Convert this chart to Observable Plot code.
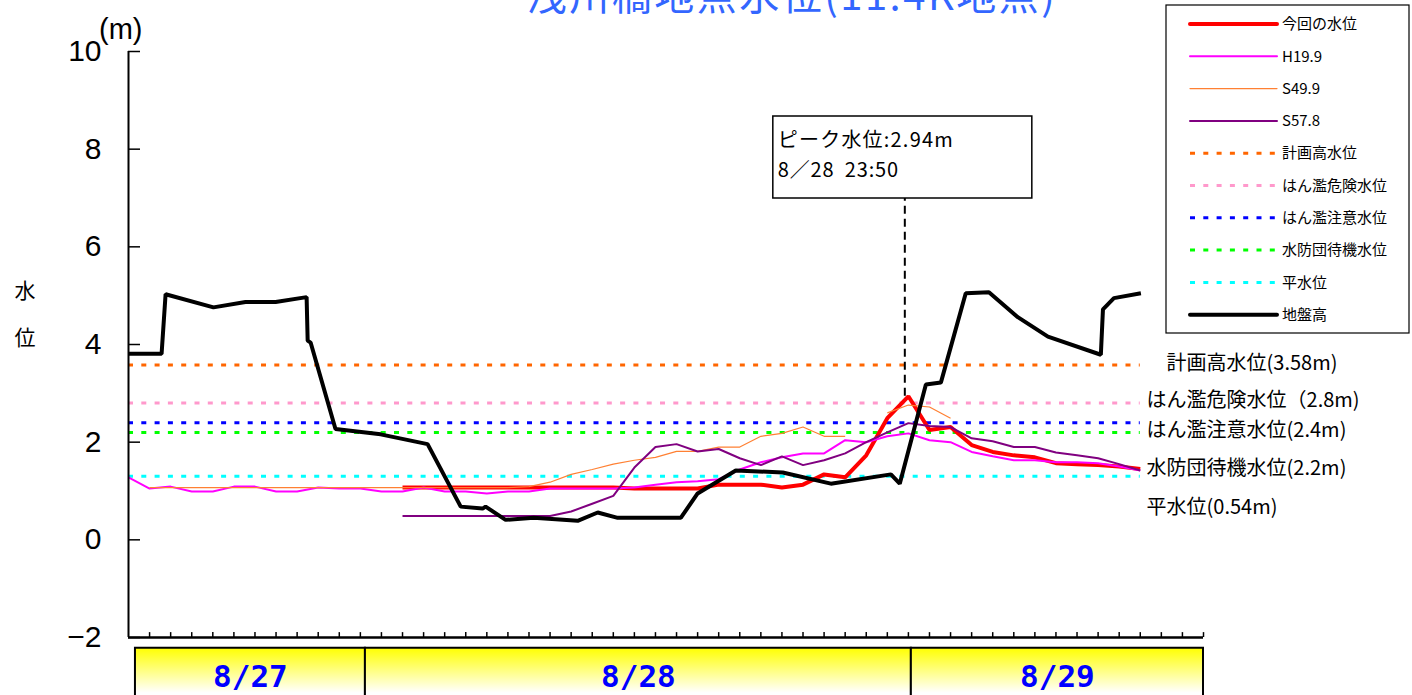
<!DOCTYPE html>
<html><head><meta charset="utf-8">
<script src="https://cdn.jsdelivr.net/npm/d3@7"></script>
<script src="https://cdn.jsdelivr.net/npm/@observablehq/plot@0.6"></script>
<style>
body{margin:0;background:#fff;overflow:hidden}
#chart{position:relative;width:1412px;height:695px}
</style>
</head><body><div id="chart"></div>
<script>
// ---- data ----
const titleText = "浅川橋地点水位(11.4K地点)";
const xTicks = d3.range(0, 52);            // hourly tick index (8/27 11:00 = 0)
const yTicks = [-2, 0, 2, 4, 6, 8, 10];

const currentStart = 13;   // 今回の水位
const currentLevel = [1.07,1.07,1.07,1.07,1.07,1.07,1.07,1.07,1.07,1.07,1.07,
  1.05,1.05,1.05,1.05,1.13,1.13,1.13,1.07,1.13,1.34,1.28,1.73,2.49,2.94,
  2.25,2.31,1.94,1.80,1.73,1.69,1.57,1.55,1.53,1.50,1.45];

const h19Start = 0;        // H19.9
const h19Level = [1.28,1.05,1.09,0.99,0.99,1.09,1.09,0.99,0.99,1.07,1.05,1.05,0.99,0.99,
  1.07,0.99,0.99,0.95,0.99,0.99,1.05,1.05,1.05,1.05,1.07,1.13,1.18,1.20,1.24,1.44,1.59,
  1.69,1.77,1.77,2.04,2.00,2.12,2.18,2.04,2.00,1.80,1.71,1.63,1.63,1.59,1.59,1.57,1.50,1.42];

const s49Start = 1;        // S49.9
const s49Level = [1.07,1.07,1.07,1.07,1.07,1.07,1.07,1.07,1.07,1.07,1.07,1.07,1.07,1.07,
  1.07,1.07,1.07,1.07,1.09,1.18,1.34,1.44,1.55,1.63,1.69,1.81,1.81,1.90,1.90,2.12,2.18,
  2.31,2.12,2.12,null,2.60,2.76,2.72,2.49];

const s57Start = 13;       // S57.8
const s57Level = [0.49,0.49,0.49,0.49,0.49,0.49,0.49,0.49,0.58,0.74,0.90,1.48,1.90,1.96,
  1.81,1.86,1.67,1.53,1.71,1.53,1.63,1.77,2.00,2.20,2.39,2.33,2.31,2.08,2.02,1.90,1.90,
  1.79,1.73,1.67,1.55,1.42];

// 地盤高 (cross-section profile drawn on the same axes)
const groundX = [0,1.57,1.76,4.03,5.55,6.98,8.45,8.5,8.64,9.82,11.96,14.19,15.76,16.8,16.94,
  17.89,19.22,21.31,22.26,23.21,26.2,27.0,28.81,31.04,33.32,36.17,36.59,37.83,38.54,39.72,
  40.82,42.19,43.62,46.13,46.23,46.75,48.03];
const groundY = [3.81,3.81,5.03,4.76,4.87,4.87,4.97,4.08,4.04,2.27,2.16,1.96,0.68,0.64,0.68,
  0.41,0.45,0.39,0.56,0.45,0.45,0.95,1.42,1.38,1.15,1.34,1.15,3.18,3.22,5.05,5.07,4.56,
  4.16,3.79,4.72,4.95,5.05];

const levelNames = ["計画高水位","はん濫危険水位","はん濫注意水位","水防団待機水位","平水位"];
const levelValues = [3.58, 2.8, 2.4, 2.2, 1.3];
const levelLabels = ["　計画高水位(3.58m)","はん濫危険水位（2.8m)","はん濫注意水位(2.4m)","水防団待機水位(2.2m)","平水位(0.54m)"];
const levelLabelY = [3.61, 2.85, 2.24, 1.46, 0.66];

const peakX = 36.83;   // 8/28 23:50
const peakValue = 2.94;
const peakText = ["ピーク水位:2.94m", "8／28  23:50"];

const dateLabels = ["8/27", "8/28", "8/29"];
const dateStart = [0.33, 11.24, 37.14];
const dateEnd = [11.24, 37.14, 51];

const legendNames = ["今回の水位","H19.9","S49.9","S57.8","計画高水位","はん濫危険水位","はん濫注意水位","水防団待機水位","平水位","地盤高"];

// ---- styles ----
const seriesStyle = {
  "今回の水位": {stroke: "#ff0000", width: 4},
  "H19.9": {stroke: "#ff00ff", width: 2},
  "S49.9": {stroke: "#ff8033", width: 1.2},
  "S57.8": {stroke: "#800080", width: 2},
  "計画高水位": {stroke: "#ff6600", width: 3, dash: "5,8.3"},
  "はん濫危険水位": {stroke: "#ff99cc", width: 3, dash: "5,8.3"},
  "はん濫注意水位": {stroke: "#0000ff", width: 3, dash: "5,8.3"},
  "水防団待機水位": {stroke: "#00ff00", width: 3, dash: "5,8.3"},
  "平水位": {stroke: "#00ffff", width: 3, dash: "5,8.3"},
  "地盤高": {stroke: "#000000", width: 4}
};
const jp = "'Noto Sans CJK JP', 'Noto Sans', sans-serif";
const latin = "'Liberation Sans', Arial, sans-serif";

// ---- build tables ----
const toRows = (start, vals) => vals.map((v, i) => ({x: start + i, y: v}));
const current = toRows(currentStart, currentLevel);
const h19 = toRows(h19Start, h19Level);
const s49 = toRows(s49Start, s49Level);
const s57 = toRows(s57Start, s57Level);
const ground = groundX.map((x, i) => ({x, y: groundY[i]}));
const levels = levelNames.map((n, i) => ({name: n, y: levelValues[i]}));
const levelLabelRows = levelLabels.map((t, i) => ({t, y: levelLabelY[i]}));
const dates = dateLabels.map((t, i) => ({t, x1: dateStart[i], x2: dateEnd[i], xm: (dateStart[i] + dateEnd[i]) / 2}));

const defs = () => {
  const d = d3.create("svg:defs");
  const g = d.append("linearGradient").attr("id", "dateGrad").attr("x1", 0).attr("y1", 0).attr("x2", 0).attr("y2", 1);
  g.append("stop").attr("offset", "0").attr("stop-color", "#ffff00");
  g.append("stop").attr("offset", "0.85").attr("stop-color", "#ffffff");
  return d.node();
};

const line = (data, name) => Plot.line(data, {x: "x", y: "y", stroke: seriesStyle[name].stroke,
  strokeWidth: seriesStyle[name].width, strokeLinejoin: "miter", strokeLinecap: "butt"});

const plot = Plot.plot({
  width: 1412, height: 695,
  marginLeft: 128, marginRight: 209, marginTop: 51, marginBottom: 58,
  x: {domain: [0, 51], axis: null},
  y: {domain: [-2, 10], axis: null},
  style: {background: "white", color: "black", fontFamily: jp, overflow: "visible"},
  marks: [
    defs,
    // date band
    Plot.rect(dates, {x1: "x1", x2: "x2", y1: -2.22, y2: -3.3, fill: "url(#dateGrad)", stroke: "black", strokeWidth: 2}),
    Plot.text(dates, {x: "xm", y: -2, dy: 40, text: "t", fill: "#0000ff", fontSize: 31, fontWeight: "bold",
      fontFamily: "'DejaVu Sans Mono', monospace"}),
    // reference levels
    ...levels.map(l => Plot.ruleY([l], {y: "y", x1: 0, x2: 48, stroke: seriesStyle[l.name].stroke,
      strokeWidth: 3, strokeDasharray: seriesStyle[l.name].dash})),
    // series
    line(current, "今回の水位"),
    line(h19, "H19.9"),
    line(s49, "S49.9"),
    line(s57, "S57.8"),
    line(ground, "地盤高"),
    // peak marker
    Plot.ruleX([peakX], {x: d => d, y1: peakValue, y2: 7.0, stroke: "black", strokeWidth: 2, strokeDasharray: "8,5"}),
    // axes
    Plot.ruleX([0], {y1: -2, y2: 10, stroke: "black", strokeWidth: 2}),
    Plot.ruleY([-2], {x1: 0, x2: 51, stroke: "black", strokeWidth: 2.5}),
    Plot.ruleY(yTicks, {y: d => d, x1: 0, x2: 0.57, stroke: "black", strokeWidth: 1.5}),
    Plot.ruleX(xTicks.slice(1), {x: d => d, y1: -2, y2: -1.9, stroke: "black", strokeWidth: 1.5}),
    Plot.axisY(yTicks, {anchor: "left", tickSize: 0, tickPadding: 27, fontSize: 30,
      fontFamily: latin, label: null}),
    // level labels
    Plot.text(levelLabelRows, {x: 48.3, y: "y", text: "t", textAnchor: "start", fontSize: 20, fill: "black"})
  ]
});

document.getElementById("chart").appendChild(plot);
const svg = d3.select(plot);
const xs = plot.scale("x");

// title (partly above the frame, as in the source image)
svg.append("text").attr("x", 792).attr("y", 10).attr("text-anchor", "middle")
  .attr("font-size", 40).attr("letter-spacing", 2.5).attr("fill", "#3366ff")
  .attr("font-family", jp).text(titleText);
// unit
svg.append("text").attr("x", 99).attr("y", 39).attr("text-anchor", "start").attr("font-size", 29)
  .attr("font-family", latin).text("(m)");
// y axis title
svg.append("text").attr("x", 25).attr("y", 298).attr("text-anchor", "middle").attr("font-size", 21).attr("font-family", jp).text("水");
svg.append("text").attr("x", 25).attr("y", 345).attr("text-anchor", "middle").attr("font-size", 21).attr("font-family", jp).text("位");

// peak annotation box
const bx = xs.apply(peakX) - 131.5;
svg.append("rect").attr("x", bx).attr("y", 116).attr("width", 259).attr("height", 82)
  .attr("fill", "white").attr("stroke", "black").attr("stroke-width", 1.5);
peakText.forEach((t, i) => svg.append("text").attr("x", bx + 5).attr("y", 147 + i * 30)
  .attr("text-anchor", "start").attr("font-size", 20).attr("letter-spacing", i === 0 ? 1.2 : 0.8)
  .attr("font-family", jp).style("white-space", "pre").text(t));

// legend
const leg = svg.append("g");
leg.append("rect").attr("x", 1166).attr("y", 5).attr("width", 243).attr("height", 328)
  .attr("fill", "white").attr("stroke", "black").attr("stroke-width", 1.2);
legendNames.forEach((n, i) => {
  const y = 24 + i * 32.3, s = seriesStyle[n];
  leg.append("line").attr("x1", 1190).attr("x2", 1277).attr("y1", y).attr("y2", y)
    .attr("stroke", s.stroke).attr("stroke-width", s.width).attr("stroke-linecap", s.dash ? "butt" : "round")
    .attr("stroke-dasharray", s.dash || null);
  leg.append("text").attr("x", 1282).attr("y", y).attr("dy", "0.35em").attr("text-anchor", "start")
    .attr("font-size", 15).attr("font-family", jp).text(n);
});
</script>
</body></html>
